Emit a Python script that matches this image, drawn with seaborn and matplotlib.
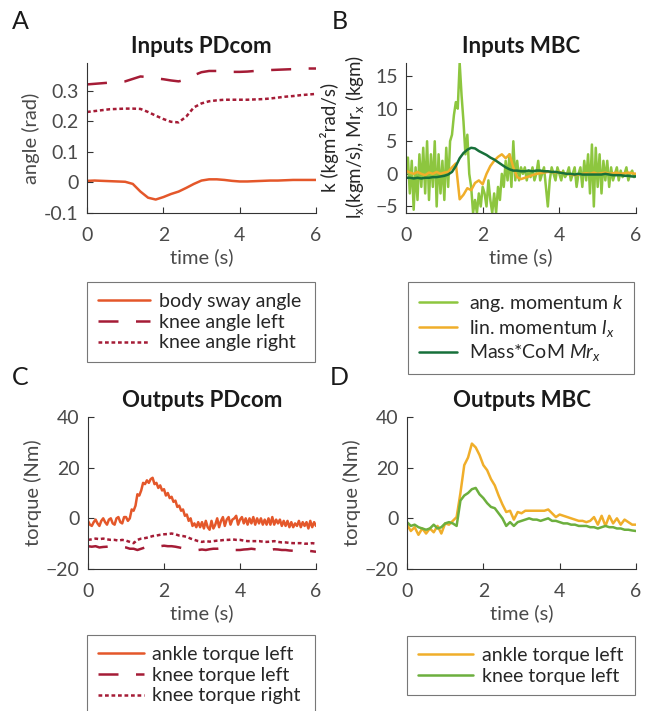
import numpy as np
import matplotlib
matplotlib.use("Agg")
import matplotlib.pyplot as plt
import seaborn as sns

# time grids (s)
t_coarse = np.linspace(0, 6, 31)   # 0.2 s
t_mid = np.linspace(0, 6, 61)      # 0.1 s
t_fine = np.linspace(0, 6, 121)    # 0.05 s

# Panel A: inputs PDcom (rad), 0.2 s steps
body_sway = [0.005, 0.006, 0.005, 0.004, 0.003, 0.002, -0.005, -0.03, -0.05, -0.056, -0.048,
             -0.038, -0.03, -0.018, -0.005, 0.006, 0.01, 0.01, 0.008, 0.005, 0.003, 0.003,
             0.004, 0.005, 0.006, 0.006, 0.007, 0.008, 0.008, 0.008, 0.008]
knee_angle_left = [0.320, 0.322, 0.324, 0.326, 0.328, 0.330, 0.338, 0.346, 0.344, 0.340, 0.337,
                   0.333, 0.330, 0.336, 0.350, 0.360, 0.364, 0.364, 0.362, 0.361, 0.361, 0.362,
                   0.364, 0.366, 0.367, 0.368, 0.369, 0.370, 0.371, 0.372, 0.372]
knee_angle_right = [0.230, 0.233, 0.236, 0.239, 0.240, 0.241, 0.241, 0.240, 0.230, 0.218, 0.207,
                    0.198, 0.196, 0.215, 0.245, 0.258, 0.265, 0.268, 0.270, 0.270, 0.270, 0.270,
                    0.271, 0.272, 0.274, 0.277, 0.280, 0.282, 0.285, 0.287, 0.289]

# Panel B: inputs MBC
ang_momentum = [0, 2.5, -3, 2, -5.5, 1, -4, 3, -2, 4, -3, 5, -4, 3, -2, 5, -5, 3, -3, 2,
                -4, 4, -2, 5, 6, 9, 11, 10, 17, 12, 8, 3, 6, 0, -2, -6, -4, -6, -3, -5,
                -2, -3, -5, -1, -4, -6, -3, -6, -2, -4, 0, -2, 2, -1, 3, -2, 5, -1, 2, -1,
                1, 0, 1, -1, 0.5, -0.5, 1, -1, 0, 2, -1, 0, 1, -2, -5, -1, 1, 0, -1, 1,
                0, -1, 0.5, -0.5, 0, 1, -1, 0, 1, -2, 0, 1, -2, 2, -1, 3, -3, 4.5, -5, 4,
                -2, 3, -3, 2, -1, 2, -2, 1, -1, 0, 1, -1, 0.5, -0.5, 0, 1, -1, 0, 0.5, -0.5, 0]
lin_momentum = [0.5, 0.2, 0.0, 0.3, 0.0, -0.2, 0.2, 0.0, 0.3, 0.0, 0.2, 0.3, 1.0, 1.6, -3.9,
                -3.2, -2.2, -2.5, -1.4, -1.0, -1.6, 0.0, 1.2, 2.0, 2.6, 3.0, 2.4, 3.0, 1.0, -0.5,
                -0.8, -0.6, -0.4, -0.2, 0.0, 0.1, 0.2, 0.3, 0.3, 0.2, 0.3, 0.1, 0.0, -0.1, -0.2,
                -0.1, 0.0, 0.1, 0.0, 0.2, 0.0, 0.1, 0.2, 0.0, 0.1, 0.2, 0.0, 0.1, 0.2, 0.1, 0.0]
mass_com = [-0.6, -0.6, -0.7, -0.6, -0.7, -0.6, -0.6, -0.5, -0.5, -0.4, -0.3, -0.1, 0.3, 1.2,
            2.4, 3.2, 3.7, 4.0, 3.9, 3.5, 3.2, 2.9, 2.5, 2.2, 1.8, 1.4, 1.0, 0.7, 0.5, 0.5,
            0.4, 0.4, 0.5, 0.4, 0.5, 0.5, 0.4, 0.4, 0.3, 0.3, 0.2, 0.1, 0.0, 0.0, -0.1, 0.0,
            -0.1, -0.1, -0.1, -0.1, -0.1, -0.1, 0.0, -0.1, -0.2, -0.2, -0.2, -0.3, -0.3, -0.4, -0.4]

# Panel C: outputs PDcom (Nm)
ankle_pd = [-1.0, -2.5, -3.0, -1.5, -0.5, -2.0, -3.0, -1.0, 0.0, -1.5, -2.5, -0.5, 0.0, -2.0,
            -2.5, 0.0, 0.5, -1.5, -2.0, 0.5, 0.5, -1.0, 0.0, 3.5, 3.0, 5.0, 9.5, 9.0, 11.0, 14.0,
            13.5, 15.0, 14.0, 15.5, 16.0, 13.5, 14.0, 12.0, 13.0, 11.0, 11.5, 9.0, 10.0, 8.0,
            8.5, 6.5, 7.0, 4.5, 5.0, 3.0, 3.5, 1.0, 1.5, -1.0, 0.0, -3.0, -2.0, -3.5, -1.5,
            -3.5, -1.5, -4.0, -1.0, -3.5, -4.5, -1.0, -4.0, -2.5, 0.0, -3.5, -1.0, 0.5, -3.0,
            -0.5, 0.5, -2.5, -0.5, 0.0, 1.0, -2.5, -0.5, 0.5, -2.0, 0.0, -2.5, 0.0, -2.0, 0.5,
            -2.5, 0.0, -2.0, 0.0, -2.5, -0.5, -2.5, 0.0, -2.5, 0.5, -2.5, -0.5, -2.0, -0.5,
            -3.0, -1.0, -3.0, -1.0, -3.5, -1.5, -3.5, -2.0, -3.0, -1.0, -3.5, -1.5, -3.0, -1.5,
            -4.0, -1.0, -3.5, -1.5, -3.0]
knee_left_pd = [-11.0, -11.2, -11.0, -11.5, -11.3, -11.2, -11.0, -11.2, -11.4, -11.3, -11.5,
                -12.0, -12.0, -12.5, -12.0, -11.5, -11.0, -11.0, -11.2, -11.0, -10.8, -11.0,
                -11.0, -11.2, -11.5, -11.8, -12.0, -12.2, -12.5, -12.5, -12.3, -12.5, -12.2,
                -12.0, -12.0, -11.8, -12.0, -12.3, -12.5, -12.5, -12.5, -12.3, -12.2, -12.0,
                -12.2, -12.3, -12.5, -12.8, -12.5, -12.2, -12.3, -12.5, -12.5, -12.7, -12.8,
                -13.0, -13.0, -12.8, -12.8, -13.0, -13.2]
knee_right_pd = [-8.5, -8.3, -8.0, -8.2, -8.0, -8.3, -8.5, -8.5, -8.8, -8.5, -8.8, -9.3, -9.8,
                 -8.5, -8.0, -7.8, -7.5, -7.0, -6.8, -6.5, -6.3, -6.2, -6.0, -6.3, -6.8, -7.0,
                 -7.3, -8.0, -8.5, -9.0, -9.3, -9.0, -9.2, -9.0, -8.8, -8.7, -8.5, -8.5, -8.3,
                 -8.5, -8.5, -8.8, -9.0, -9.0, -9.0, -9.0, -9.2, -9.3, -9.2, -9.0, -9.3, -9.5,
                 -9.5, -9.7, -9.8, -9.8, -9.8, -10.0, -10.0, -9.8, -10.0]

# Panel D: outputs MBC (Nm)
ankle_mbc = [-2.5, -5.0, -3.5, -6.5, -4.0, -6.0, -4.0, -5.5, -3.0, -6.0, -2.0, -2.5, -1.0, 0.5,
             10.0, 21.0, 24.0, 29.5, 28.0, 25.0, 21.0, 19.0, 15.5, 13.0, 9.0, 5.5, 2.5, 3.0,
             -0.5, 2.5, 2.0, 3.0, 3.0, 3.0, 3.0, 3.0, 3.0, 3.5, 2.0, 0.5, 1.5, 1.0, 0.5, 0.0,
             -0.5, -1.0, -1.0, -1.5, -1.0, 0.5, -2.5, 1.0, -3.0, 1.0, -2.0, 0.0, -2.5, -0.5,
             -1.5, -2.5, -2.5]
knee_mbc = [-1.5, -3.0, -2.5, -3.5, -4.0, -4.5, -4.0, -2.5, -4.0, -3.5, -2.0, -1.5, -2.0, -3.0,
            7.0, 9.0, 10.0, 11.5, 12.0, 9.5, 8.0, 6.0, 4.5, 4.0, 2.0, 0.0, -3.0, -1.5, -3.0,
            -1.5, -1.0, -0.5, 0.0, -0.5, -0.5, -1.0, -0.5, 0.0, -1.0, -1.0, -1.5, -2.0, -2.0,
            -2.5, -2.5, -3.0, -3.0, -3.0, -3.5, -3.5, -4.0, -3.5, -3.0, -3.5, -3.5, -4.0, -4.0,
            -4.5, -4.5, -4.8, -5.0]

c_orange = "#E4572A"
c_crimson = "#A51C36"
c_lime = "#8DC63F"
c_yellow = "#F0AE2A"
c_dkgreen = "#17703A"
c_green = "#6CAF3E"

sns.set_theme(style="ticks")
plt.rcParams["font.family"] = ["Lato", "DejaVu Sans"]
plt.rcParams["mathtext.fontset"] = "custom"
plt.rcParams["mathtext.rm"] = "Lato"
plt.rcParams["mathtext.it"] = "Lato:italic"
plt.rcParams["axes.edgecolor"] = "#333333"
plt.rcParams["xtick.color"] = "#333333"
plt.rcParams["ytick.color"] = "#333333"
plt.rcParams["xtick.labelcolor"] = "#4a4a4a"
plt.rcParams["ytick.labelcolor"] = "#4a4a4a"

fig = plt.figure(figsize=(6.52, 7.11), dpi=100)
W, H = 652, 711


def px_axes(x0, y0, x1, y1):
    return fig.add_axes([x0 / W, 1 - y1 / H, (x1 - x0) / W, (y1 - y0) / H])


axA = px_axes(87, 63, 316, 213)
axB = px_axes(406, 63, 636, 213)
axC = px_axes(88, 417, 316, 569)
axD = px_axes(407, 417, 636, 569)

lw = 1.8
dash_long = (8, 7)
dot_short = (1.5, 1.1)
fs = 14


def draw(ax, t, y, color, label, dashes=None):
    sns.lineplot(x=t, y=y, ax=ax, color=color, lw=lw, label=label)
    if dashes is not None:
        ax.lines[-1].set_dashes(dashes)


draw(axA, t_coarse, body_sway, c_orange, "body sway angle")
draw(axA, t_coarse, knee_angle_left, c_crimson, "knee angle left", dash_long)
draw(axA, t_coarse, knee_angle_right, c_crimson, "knee angle right", dot_short)

draw(axB, t_fine, ang_momentum, c_lime, "ang. momentum $k$")
draw(axB, t_mid, lin_momentum, c_yellow, "lin. momentum $l_x$")
draw(axB, t_mid, mass_com, c_dkgreen, "Mass*CoM $Mr_x$")

draw(axC, t_fine, ankle_pd, c_orange, "ankle torque left")
draw(axC, t_mid, knee_left_pd, c_crimson, "knee torque left", dash_long)
draw(axC, t_mid, knee_right_pd, c_crimson, "knee torque right", dot_short)

draw(axD, t_mid, ankle_mbc, c_yellow, "ankle torque left")
draw(axD, t_mid, knee_mbc, c_green, "knee torque left")

axA.set_ylim(-0.1, 0.39)
axA.set_yticks([-0.1, 0, 0.1, 0.2, 0.3])
axA.set_yticklabels(["-0.1", "0", "0.1", "0.2", "0.3"])
axB.set_ylim(-6, 17)
axB.set_yticks([-5, 0, 5, 10, 15])
for ax in (axC, axD):
    ax.set_ylim(-20, 40)
    ax.set_yticks([-20, 0, 20, 40])

titles = {axA: "Inputs PDcom", axB: "Inputs MBC", axC: "Outputs PDcom", axD: "Outputs MBC"}
for ax, ttl in titles.items():
    ax.set_xlim(0, 6)
    ax.set_xticks([0, 2, 4, 6])
    ax.tick_params(direction="in", length=4, width=0.8, labelsize=fs)
    ax.tick_params(axis="x", pad=10)
    ax.tick_params(axis="y", pad=6)
    ax.set_xlabel("time (s)", fontsize=fs + 0.5, color="#4a4a4a", labelpad=3)
    ax.set_title(ttl, fontsize=16, fontweight="bold", color="#1a1a1a", pad=7)
    sns.despine(ax=ax)
    for s in ("left", "bottom"):
        ax.spines[s].set_linewidth(0.8)

axA.set_ylabel("angle (rad)", fontsize=fs + 0.5, color="#4a4a4a", labelpad=3)
axC.set_ylabel("torque (Nm)", fontsize=fs + 0.5, color="#4a4a4a", labelpad=3)
axD.set_ylabel("torque (Nm)", fontsize=fs + 0.5, color="#4a4a4a", labelpad=3)
# two-line label of panel B
fig.text(343 / W, 1 - 137 / H,
         "k (kgm²rad/s)\nl$_\\mathregular{x}$(kgm/s), Mr$_\\mathregular{x}$ (kgm)",
         rotation=90, fontsize=13.5, color="#262626", ha="center", va="center",
         multialignment="center", linespacing=1.2)

# legends below each panel, same width as the axes
leg_boxes = {axA: (87, 282, 315, 2.7, 0.45), axB: (408, 282, 634, 1.95, 0.65),
             axC: (87, 635, 315, 2.4, 0.4), axD: (407, 636, 635, 2.85, 0.45)}
for ax, (x0, y0, x1, hl, tp) in leg_boxes.items():
    leg = ax.legend(loc="upper left",
                    bbox_to_anchor=(x0 / W, 1 - y0 / H - 0.01, (x1 - x0) / W, 0.01),
                    bbox_transform=fig.transFigure, mode="expand", borderaxespad=0,
                    fontsize=14, handlelength=hl, handletextpad=tp, labelspacing=0.2,
                    borderpad=0.55, fancybox=False, frameon=True)
    leg.get_frame().set_edgecolor("#555555")
    leg.get_frame().set_linewidth(0.8)
    for txt in leg.get_texts():
        txt.set_color("#262626")

letters = [("A", 12, 10), ("B", 332, 10), ("C", 12, 366), ("D", 330, 366)]
for s, x, y in letters:
    fig.text(x / W, 1 - y / H, s, fontsize=18, va="top", ha="left", color="#1a1a1a")

fig.savefig("out.png", dpi=100)
